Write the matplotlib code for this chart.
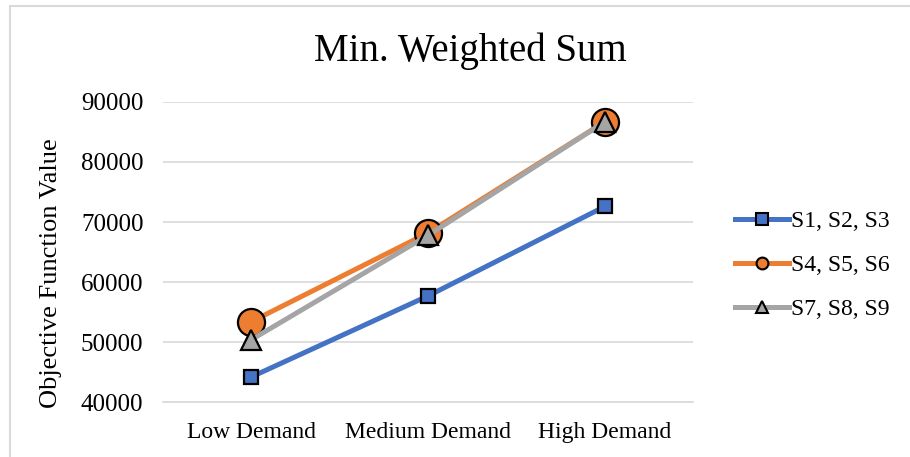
import matplotlib
matplotlib.use("Agg")
import matplotlib.pyplot as plt
from matplotlib.lines import Line2D
from matplotlib.patches import Rectangle

plt.rcParams['font.family'] = ['Liberation Serif', 'DejaVu Serif']

categories = ['Low Demand', 'Medium Demand', 'High Demand']
s1_s3 = [44200, 57700, 72600]
s4_s6 = [53400, 68200, 86700]
s7_s9 = [50400, 67800, 86700]
series_labels = ['S1, S2, S3', 'S4, S5, S6', 'S7, S8, S9']

blue = '#4472C4'
orange = '#ED7D31'
gray = '#A5A5A5'

fig = plt.figure(figsize=(9.1, 4.57), dpi=100)
ax = fig.add_axes([0.179, 0.120, 0.583, 0.657])

x = list(range(len(categories)))
ax.plot(x, s1_s3, color=blue, lw=3.6, marker='s', ms=9.5,
        mfc=blue, mec='black', mew=1.6, zorder=3)
ax.plot(x, s4_s6, color=orange, lw=3.6, marker='o', ms=19.5,
        mfc=orange, mec='black', mew=1.6, zorder=3)
ax.plot(x, s7_s9, color=gray, lw=3.6, marker='^', ms=14,
        mfc=gray, mec='black', mew=1.6, zorder=4)

ax.set_xlim(-0.5, 2.5)
ax.set_ylim(40000, 90000)
ax.set_yticks(range(40000, 90001, 10000))
ax.set_xticks(x)
ax.set_xticklabels(categories)
ax.tick_params(axis='both', length=0, colors='black')
ax.tick_params(axis='x', labelsize=17, pad=14)
ax.tick_params(axis='y', labelsize=18, pad=14)
ax.grid(axis='y', color='#D9D9D9', lw=1.2)
ax.set_axisbelow(True)
for side in ['top', 'right', 'left']:
    ax.spines[side].set_visible(False)
ax.spines['bottom'].set_color('#D9D9D9')
ax.spines['bottom'].set_linewidth(1.2)

ax.set_ylabel('Objective Function Value', fontsize=19)
ax.yaxis.set_label_coords(-0.19, 0.43)
fig.text(0.517, 0.887, 'Min. Weighted Sum', ha='center', va='center', fontsize=28)

# legend with smaller markers than the plotted points
handles = [
    Line2D([], [], color=blue, lw=3.6, marker='s', ms=8, mfc=blue, mec='black', mew=1.5),
    Line2D([], [], color=orange, lw=3.6, marker='o', ms=8.5, mfc=orange, mec='black', mew=1.5),
    Line2D([], [], color=gray, lw=3.6, marker='^', ms=8, mfc=gray, mec='black', mew=1.5),
]
fig.legend(handles, series_labels, loc='center left', bbox_to_anchor=(0.797, 0.42),
           frameon=False, fontsize=17, handlelength=2.3, handletextpad=0.1,
           labelspacing=0.95, borderaxespad=0)

# chart area border
fig.patches.append(Rectangle((10 / 910, -0.1), 1.2, 1.1 - 6 / 457, transform=fig.transFigure,
                             fill=False, edgecolor='#D9D9D9', lw=1.5, zorder=0))

fig.savefig('out.png', dpi=100)
